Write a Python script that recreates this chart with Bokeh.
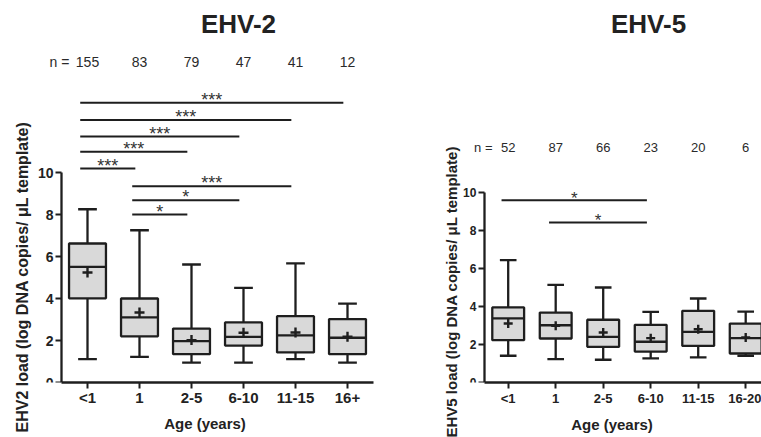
from bokeh.plotting import figure
from bokeh.layouts import row
from bokeh.models import FixedTicker, Label, ColumnDataSource, Range1d, Title
from bokeh.core.properties import value
from bokeh.embed import file_html
from bokeh.resources import INLINE
import numpy as np

FONT = "Liberation Sans"
INK = "#1e1e1e"
TXT = "#2a2a2a"
BOX_FILL = "#d9d9d9"

# ---------------- EHV-2 data ----------------
ehv2_ages = ["<1", "1", "2-5", "6-10", "11-15", "16+"]
ehv2_n = [155, 83, 79, 47, 41, 12]
ehv2_whisk_lo = [1.11, 1.22, 0.95, 0.95, 1.11, 0.95]
ehv2_q1 = [4.01, 2.20, 1.35, 1.76, 1.43, 1.35]
ehv2_median = [5.51, 3.10, 1.97, 2.17, 2.24, 2.13]
ehv2_q3 = [6.62, 4.00, 2.57, 2.86, 3.16, 3.02]
ehv2_whisk_hi = [8.25, 7.25, 5.62, 4.51, 5.67, 3.76]
ehv2_mean = [5.24, 3.33, 2.02, 2.37, 2.38, 2.18]
ehv2_sig_from = [0, 0, 0, 0, 0, 1, 1, 1]
ehv2_sig_to = [5, 4, 3, 2, 1, 4, 3, 2]
ehv2_sig_y = [13.32, 12.50, 11.71, 10.99, 10.19, 9.35, 8.68, 8.00]
ehv2_sig_label = ["***", "***", "***", "***", "***", "***", "*", "*"]

# ---------------- EHV-5 data ----------------
ehv5_ages = ["<1", "1", "2-5", "6-10", "11-15", "16-20"]
ehv5_n = [52, 87, 66, 23, 20, 6]
ehv5_whisk_lo = [1.41, 1.23, 1.20, 1.27, 1.32, 1.41]
ehv5_q1 = [2.23, 2.32, 1.88, 1.63, 1.93, 1.53]
ehv5_median = [3.38, 3.02, 2.41, 2.15, 2.67, 2.34]
ehv5_q3 = [3.96, 3.69, 3.31, 3.04, 3.78, 3.11]
ehv5_whisk_hi = [6.45, 5.15, 5.01, 3.73, 4.43, 3.74]
ehv5_mean = [3.11, 2.99, 2.64, 2.34, 2.81, 2.37]
ehv5_sig_from = [0, 1]
ehv5_sig_to = [3, 3]
ehv5_sig_y = [9.61, 8.44]
ehv5_sig_label = ["*", "*"]

y_ticks = [0, 2, 4, 6, 8, 10]

H = 437
FRAME_BOTTOM = 382   # shared frame bottom (px from top) for both panels


def panel(title, ages, n, lo, q1, med, q3, hi, mean, sf, st, sy, sl, ylabel, cfg):
    ppu = cfg["ppu"]
    y_end = FRAME_BOTTOM / ppu
    p = figure(width=cfg["width"], height=H,
               x_range=Range1d(cfg["x_start"], cfg["x_end"]), y_range=Range1d(0, y_end),
               output_backend="svg", toolbar_location=None, tools="",
               min_border_left=cfg["bl"], min_border_right=cfg["br"],
               min_border_top=0, min_border_bottom=H - FRAME_BOTTOM)
    p.outline_line_color = None
    p.grid.visible = False
    p.background_fill_color = "white"
    p.border_fill_color = "white"

    x = np.arange(len(ages), dtype=float)
    bw = cfg["box_w"] / 2
    cw = cfg["cap_w"] / 2
    src = ColumnDataSource(dict(x=x, lo=lo, q1=q1, med=med, q3=q3, hi=hi, mean=mean,
                                bl=x - bw, br=x + bw, cl=x - cw, cr=x + cw))
    lw = 2.3
    p.segment(x0="x", x1="x", y0="q3", y1="hi", source=src, line_color=INK, line_width=lw)
    p.segment(x0="x", x1="x", y0="lo", y1="q1", source=src, line_color=INK, line_width=lw)
    p.segment(x0="cl", x1="cr", y0="hi", y1="hi", source=src, line_color=INK, line_width=lw)
    p.segment(x0="cl", x1="cr", y0="lo", y1="lo", source=src, line_color=INK, line_width=lw)
    p.quad(left="bl", right="br", bottom="q1", top="q3", source=src,
           fill_color=BOX_FILL, line_color=INK, line_width=lw)
    p.segment(x0="bl", x1="br", y0="med", y1="med", source=src, line_color=INK, line_width=lw)
    p.scatter(x="x", y="mean", source=src, marker="cross", size=cfg["cross"],
              line_color=INK, line_width=2.4)

    # significance bars
    sx0 = np.array(sf, dtype=float) - 0.14
    sx1 = np.array(st, dtype=float) - 0.08
    ssrc = ColumnDataSource(dict(x0=sx0, x1=sx1, y=sy, xm=(sx0 + sx1) / 2, lab=sl))
    p.segment(x0="x0", x1="x1", y0="y", y1="y", source=ssrc, line_color=INK, line_width=2)
    p.text(x="xm", y="y", text="lab", source=ssrc, text_align="center",
           text_baseline="middle", y_offset=cfg["star_off"],
           text_font=value(FONT), text_font_size=cfg["star_fs"], text_color="#333333")

    # n counts
    n_y = (FRAME_BOTTOM - cfg["n_px"]) / ppu
    nsrc = ColumnDataSource(dict(x=x, y=[n_y] * len(n), t=[str(v) for v in n]))
    p.text(x="x", y="y", text="t", source=nsrc, text_align="center", text_baseline="middle",
           text_font=value(FONT), text_font_size=cfg["n_fs"], text_color=TXT)
    p.add_layout(Label(x=cfg["n_eq_x"], y=n_y, text="n =", text_align="right",
                       text_baseline="middle", text_font=FONT, text_font_size=cfg["n_fs"],
                       text_color=TXT))
    # panel title
    p.add_layout(Label(x=cfg["title_x"], y=(FRAME_BOTTOM - 23) / ppu, text=title,
                       text_align="center", text_baseline="middle", text_font=FONT,
                       text_font_size="26px", text_font_style="bold", text_color="#222222"))

    for ax in (p.xaxis[0], p.yaxis[0]):
        ax.axis_line_width = 2.3
        ax.axis_line_color = INK
        ax.major_tick_line_width = 2
        ax.major_tick_line_color = INK
        ax.major_tick_out = 6
        ax.major_tick_in = 0
        ax.minor_tick_line_color = None
        ax.major_label_text_font = FONT
        ax.major_label_text_font_style = "bold"
        ax.major_label_text_color = "#222222"
        ax.axis_label_text_font = FONT
        ax.axis_label_text_font_style = "bold"
        ax.axis_label_text_color = "#222222"
        ax.major_label_standoff = 2

    p.yaxis.ticker = FixedTicker(ticks=y_ticks)
    p.yaxis.bounds = (0, 10)
    p.yaxis.fixed_location = -0.5
    p.yaxis.major_label_text_font_size = cfg["ytick_fs"]
    # blank gap between the frame and the rotated y label
    p.add_layout(Title(text="\u00a0", text_font_size="1px", text_color="white",
                       standoff=cfg["gap"]), "left")
    p.add_layout(Title(text=ylabel, align="left", offset=cfg["ylab_off"], standoff=0,
                       text_font=FONT, text_font_size=cfg["ylab_fs"],
                       text_font_style="bold", text_color="#222222"), "left")

    p.xaxis.ticker = FixedTicker(ticks=list(range(len(ages))))
    p.xaxis.bounds = (-0.5, cfg["x_end"])
    p.xaxis.major_label_overrides = {i: a for i, a in enumerate(ages)}
    p.xaxis.major_label_text_font_size = cfg["xtick_fs"]
    p.xaxis.major_label_standoff = cfg["xtick_so"]
    p.xaxis.axis_label = "Age (years)"
    p.xaxis.axis_label_text_font_size = "15px"
    p.xaxis.axis_label_standoff = cfg["xlab_so"]
    return p


left_cfg = dict(width=430, x_start=-0.9808, x_end=5.5, ppu=21.0, bl=36, br=57, gap=3,
                box_w=0.71, cap_w=0.36, cross=10, star_off=-3, star_fs="18px",
                n_px=61, n_fs="14px", n_eq_x=-0.35, title_x=2.904,
                ytick_fs="14px", ylab_fs="16px", ylab_off=-50,
                xtick_fs="15px", xtick_so=0, xlab_so=6)
right_cfg = dict(width=331, x_start=-0.962, x_end=5.3326, ppu=18.96, bl=32, br=0, gap=0,
                 box_w=0.67, cap_w=0.35, cross=9, star_off=-2, star_fs="17px",
                 n_px=147, n_fs="13px", n_eq_x=-0.33, title_x=2.954,
                 ytick_fs="12px", ylab_fs="15px", ylab_off=-55,
                 xtick_fs="13px", xtick_so=2, xlab_so=7)

p1 = panel("EHV-2", ehv2_ages, ehv2_n, ehv2_whisk_lo, ehv2_q1, ehv2_median, ehv2_q3,
           ehv2_whisk_hi, ehv2_mean, ehv2_sig_from, ehv2_sig_to, ehv2_sig_y, ehv2_sig_label,
           "EHV2 load (log DNA copies/ \u03bcL template)", left_cfg)
p2 = panel("EHV-5", ehv5_ages, ehv5_n, ehv5_whisk_lo, ehv5_q1, ehv5_median, ehv5_q3,
           ehv5_whisk_hi, ehv5_mean, ehv5_sig_from, ehv5_sig_to, ehv5_sig_y, ehv5_sig_label,
           "EHV5 load (log DNA copies/ \u03bcL template)", right_cfg)

layout = row(p1, p2, spacing=0)
open("out.html", "w").write(file_html(layout, INLINE))
